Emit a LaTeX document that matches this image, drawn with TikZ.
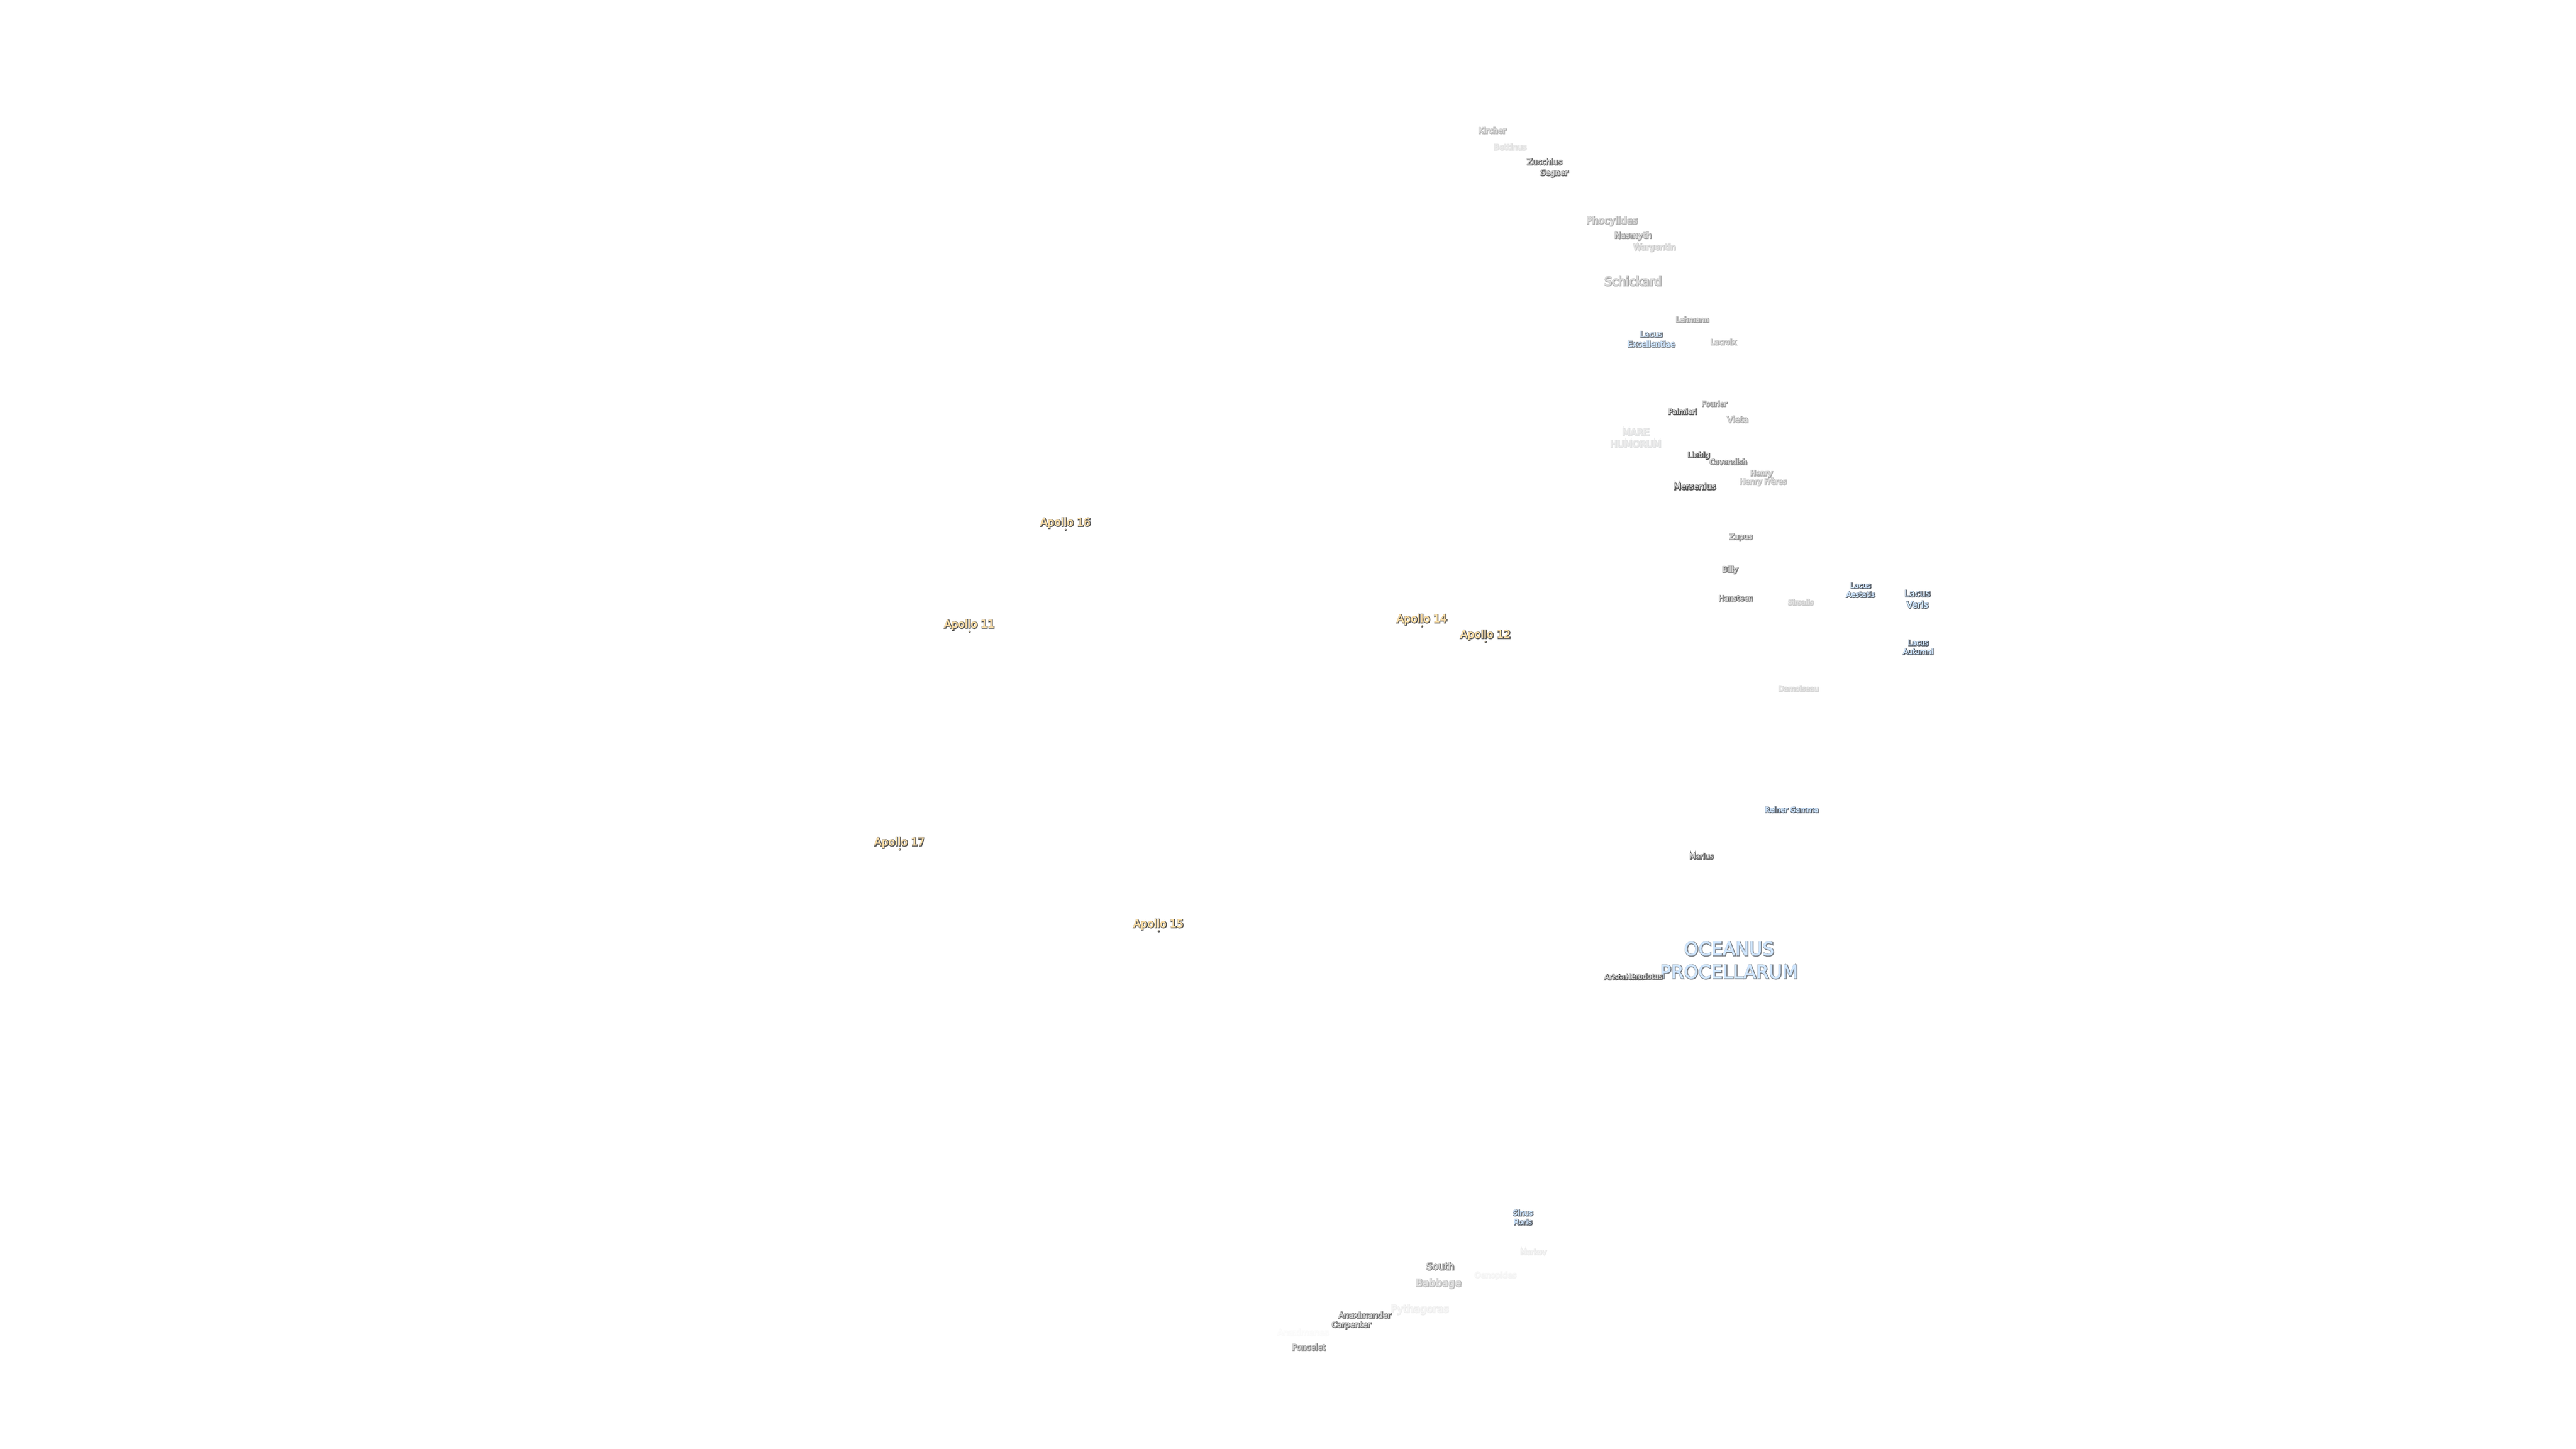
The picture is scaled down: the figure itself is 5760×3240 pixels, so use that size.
\documentclass[tikz,border=0pt]{standalone}
\usepackage{fontspec}
\setmainfont{DejaVu Sans}
\definecolor{crater}{HTML}{D6D6D6}
\definecolor{lake}{HTML}{CFE6FF}
\definecolor{site}{HTML}{FFE0A8}
\definecolor{halo}{HTML}{5A5A5A}
\definecolor{lakehalo}{HTML}{5E646C}
\tikzset{labeltext/.style={inner sep=0pt,align=center,anchor=center},
  sitedot/.style={circle,inner sep=0pt,minimum size=5pt,fill=#1}}
% name, x, y, size, opacity, fill, halo, text
\newcommand\LAB[8]{\pgfmathsetmacro\ls{#4*1.25}%
  \pgfmathsetmacro\hb{320/#4}%
  \pgfmathsetmacro\fb{60/#4}%
  \pgfmathsetmacro\pct{#5*100}%
  \pgfmathsetmacro\fpct{min(100,#5*100+35)*min(1,#5*5)}%
  \node[labeltext,text=#7!\pct!white,
    font={\fontsize{#4}{\ls}\selectfont\addfontfeature{FakeBold=\hb}}] (#1-halo) at (#2+1,#3+1) {#8};
  \node[labeltext,text=#6!\fpct!white,
    font={\fontsize{#4}{\ls}\selectfont\addfontfeature{FakeBold=\fb}}] (#1) at (#2,#3) {#8};
}
\newcommand\apollo[4]{%
  \node[sitedot=halo] (#1-dothalo) at (#2+1,#3+16) {};
  \node[sitedot=site,minimum size=3pt] (#1-dot) at (#2,#3+15) {};
  \LAB{#1}{#2}{#3}{24}{1}{site}{halo}{#4}%
}
\begin{document}
\begin{tikzpicture}[x=1pt,y=-1pt]
\useasboundingbox (0,0) rectangle (5760,3240);
\fill[white] (0,0) rectangle (5760,3240);
\LAB{kircher}{3336}{291}{17.5}{.42}{crater}{halo}{Kircher}
\LAB{bettinus}{3376}{328}{17.5}{.18}{crater}{halo}{Bettinus}
\LAB{zucchius}{3453}{361}{17.5}{.9}{crater}{halo}{Zucchius}
\LAB{segner}{3475}{387}{17.5}{.95}{crater}{halo}{Segner}
\LAB{phocylides}{3604}{494}{21.5}{.45}{crater}{halo}{Phocylides}
\LAB{nasmyth}{3651}{527}{18.5}{.6}{crater}{halo}{Nasmyth}
\LAB{wargentin}{3699}{553}{18.5}{.3}{crater}{halo}{Wargentin}
\LAB{schickard}{3651}{628}{26.5}{.5}{crater}{halo}{Schickard}
\LAB{lehmann}{3784}{714}{16}{.55}{crater}{halo}{Lehmann}
\LAB{excellentiae}{3692}{758}{17.5}{.8}{lake}{lakehalo}{Lacus\\Excellentiae}
\LAB{lacroix}{3853}{764}{16}{.45}{crater}{halo}{Lacroix}
\LAB{fourier}{3833}{902}{16}{.6}{crater}{halo}{Fourier}
\LAB{palmieri}{3762}{920}{16}{1}{crater}{halo}{Palmieri}
\LAB{vieta}{3885}{937}{18.5}{.5}{crater}{halo}{Vieta}
\LAB{humorum}{3657}{979}{21}{.18}{crater}{lakehalo}{MARE\\HUMORUM}
\LAB{liebig}{3798}{1018}{16.5}{1}{crater}{halo}{Liebig}
\LAB{cavendish}{3864}{1032}{16}{.7}{crater}{halo}{Cavendish}
\LAB{henry}{3938}{1059}{16.5}{.5}{crater}{halo}{Henry}
\LAB{henryf}{3942}{1077}{16.5}{.4}{crater}{halo}{Henry Frères}
\LAB{mersenius}{3789}{1087}{18.5}{1}{crater}{halo}{Mersenius}
\LAB{zupus}{3892}{1201}{16.5}{.7}{crater}{halo}{Zupus}
\LAB{billy}{3868}{1274}{16.5}{.8}{crater}{halo}{Billy}
\LAB{hansteen}{3881}{1337}{16}{.85}{crater}{halo}{Hansteen}
\LAB{sirsalis}{4026}{1346}{16}{.3}{crater}{halo}{Sirsalis}
\LAB{aestatis}{4160}{1319}{16}{1}{lake}{lakehalo}{Lacus\\Aestatis}
\LAB{veris}{4287}{1339}{20}{1}{lake}{lakehalo}{Lacus\\Veris}
\LAB{autumni}{4289}{1447}{16}{1}{lake}{lakehalo}{Lacus\\Autumni}
\LAB{damoiseau}{4021}{1539}{16}{.25}{crater}{halo}{Damoiseau}
\LAB{reiner}{4006}{1810}{16}{1}{lake}{lakehalo}{Reiner Gamma}
\LAB{marius}{3804}{1914}{16}{.9}{crater}{halo}{Marius}
\LAB{oceanus}{3866}{2147}{41}{.8}{lake}{lakehalo}{OCEANUS\\PROCELLARUM}
\LAB{aristarchus}{3632}{2184}{16}{1}{crater}{halo}{Aristarchus}
\LAB{herodotus}{3676}{2183}{16}{.9}{crater}{halo}{Herodotus}
\LAB{sinus}{3405}{2722}{16.5}{.95}{lake}{lakehalo}{Sinus\\Roris}
\LAB{markov}{3428}{2799}{16}{.12}{crater}{halo}{Markov}
\LAB{south}{3220}{2831}{21.5}{.7}{crater}{halo}{South}
\LAB{babbage}{3216}{2870}{23}{.4}{crater}{halo}{Babbage}
\LAB{oenopides}{3343}{2852}{17.5}{.07}{crater}{halo}{Oenopides}
\LAB{pythagoras}{3174}{2928}{23}{.1}{crater}{halo}{Pythagoras}
\LAB{anaximander}{3051}{2940}{17.5}{.85}{crater}{halo}{Anaximander}
\LAB{carpenter}{3021}{2963}{17.5}{.85}{crater}{halo}{Carpenter}
\LAB{anaximenes}{2913}{2979}{18.5}{.03}{crater}{halo}{Anaximenes}
\LAB{poncelet}{2926}{3012}{17.5}{.7}{crater}{halo}{Poncelet}
\apollo{a16}{2382}{1169}{Apollo 16}
\apollo{a11}{2167}{1397}{Apollo 11}
\apollo{a14}{3179}{1385}{Apollo 14}
\apollo{a12}{3321}{1420}{Apollo 12}
\apollo{a17}{2011}{1884}{Apollo 17}
\apollo{a15}{2590}{2067}{Apollo 15}
\end{tikzpicture}
\end{document}
